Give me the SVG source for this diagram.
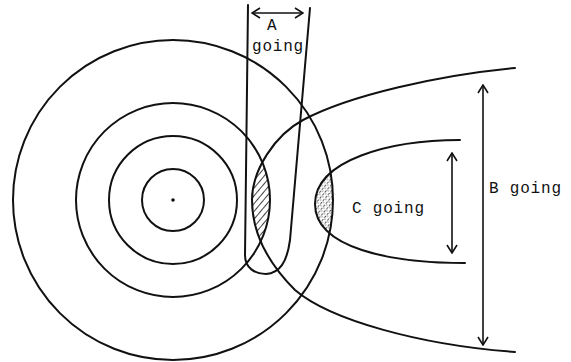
<svg xmlns="http://www.w3.org/2000/svg" width="571" height="362" viewBox="0 0 571 362">
<style>
.ln{fill:none;stroke:#111;stroke-width:2;stroke-linecap:round;stroke-linejoin:round}
.ar{fill:none;stroke:#111;stroke-width:1.6}
.t{font-family:"Liberation Mono","DejaVu Sans Mono",monospace;font-size:16px;fill:#111;letter-spacing:0.8px}
</style>
<defs>
<marker id="ah" viewBox="0 0 12 12" refX="11" refY="6" markerWidth="12" markerHeight="12" markerUnits="userSpaceOnUse" orient="auto-start-reverse">
<polyline points="3,1 11,6 3,11" fill="none" stroke="#111" stroke-width="1.6"/>
</marker>
<pattern id="hatch" width="5" height="5" patternUnits="userSpaceOnUse" patternTransform="rotate(40)">
<line x1="0" y1="0" x2="0" y2="5" stroke="#111" stroke-width="1.6"/>
</pattern>
<pattern id="dots" width="4" height="4" patternUnits="userSpaceOnUse" patternTransform="rotate(40)">
<line x1="0" y1="0" x2="0" y2="2.5" stroke="#111" stroke-width="1.4"/>
<circle cx="2" cy="3" r="0.6" fill="#111"/>
</pattern>
<clipPath id="c3"><circle cx="173" cy="200" r="97"/></clipPath>
<clipPath id="c4"><circle cx="173" cy="200" r="160"/></clipPath>
</defs>
<g id="hatching">
<path clip-path="url(#c3)" fill="url(#hatch)" d="M515,68 C440,75 350,95 303,120 C275,135 252,170 252,200 C252,235 270,265 295,290 C330,320 420,345 515,352 Z"/>
<path clip-path="url(#c4)" fill="url(#dots)" d="M460,140 C390,140 315,160 315,204 C315,248 390,263 465,263 Z"/>
</g>
<g id="circles">
<circle class="ln" cx="173" cy="200" r="31"/>
<circle class="ln" cx="173" cy="200" r="64"/>
<circle class="ln" cx="173" cy="200" r="97"/>
<circle class="ln" cx="173" cy="200" r="160"/>
<circle cx="173" cy="200" r="1.8" fill="#111"/>
</g>
<g id="curve-B">
<path class="ln" d="M515,68 C440,75 350,95 303,120 C275,135 252,170 252,200 C252,235 270,265 295,290 C330,320 420,345 515,352"/>
</g>
<g id="curve-C">
<path class="ln" d="M460,140 C390,140 315,160 315,204 C315,248 390,263 465,263"/>
</g>
<g id="loop-A">
<path class="ln" d="M248,5 L245,255 C245,268 255,274 266,274 C280,273 287,262 290,240 L310,8"/>
</g>
<g id="connectors">
<line class="ar" x1="252" y1="13" x2="303" y2="13" marker-start="url(#ah)" marker-end="url(#ah)"/>
<line class="ar" x1="452" y1="153" x2="452" y2="253" marker-start="url(#ah)" marker-end="url(#ah)"/>
<line class="ar" x1="483" y1="85" x2="483" y2="345" marker-start="url(#ah)" marker-end="url(#ah)"/>
</g>
<g id="labels">
<text class="t" x="267" y="30">A</text>
<text class="t" x="252" y="51">going</text>
<text class="t" x="352" y="213">C going</text>
<text class="t" x="489" y="193">B going</text>
</g>
</svg>
